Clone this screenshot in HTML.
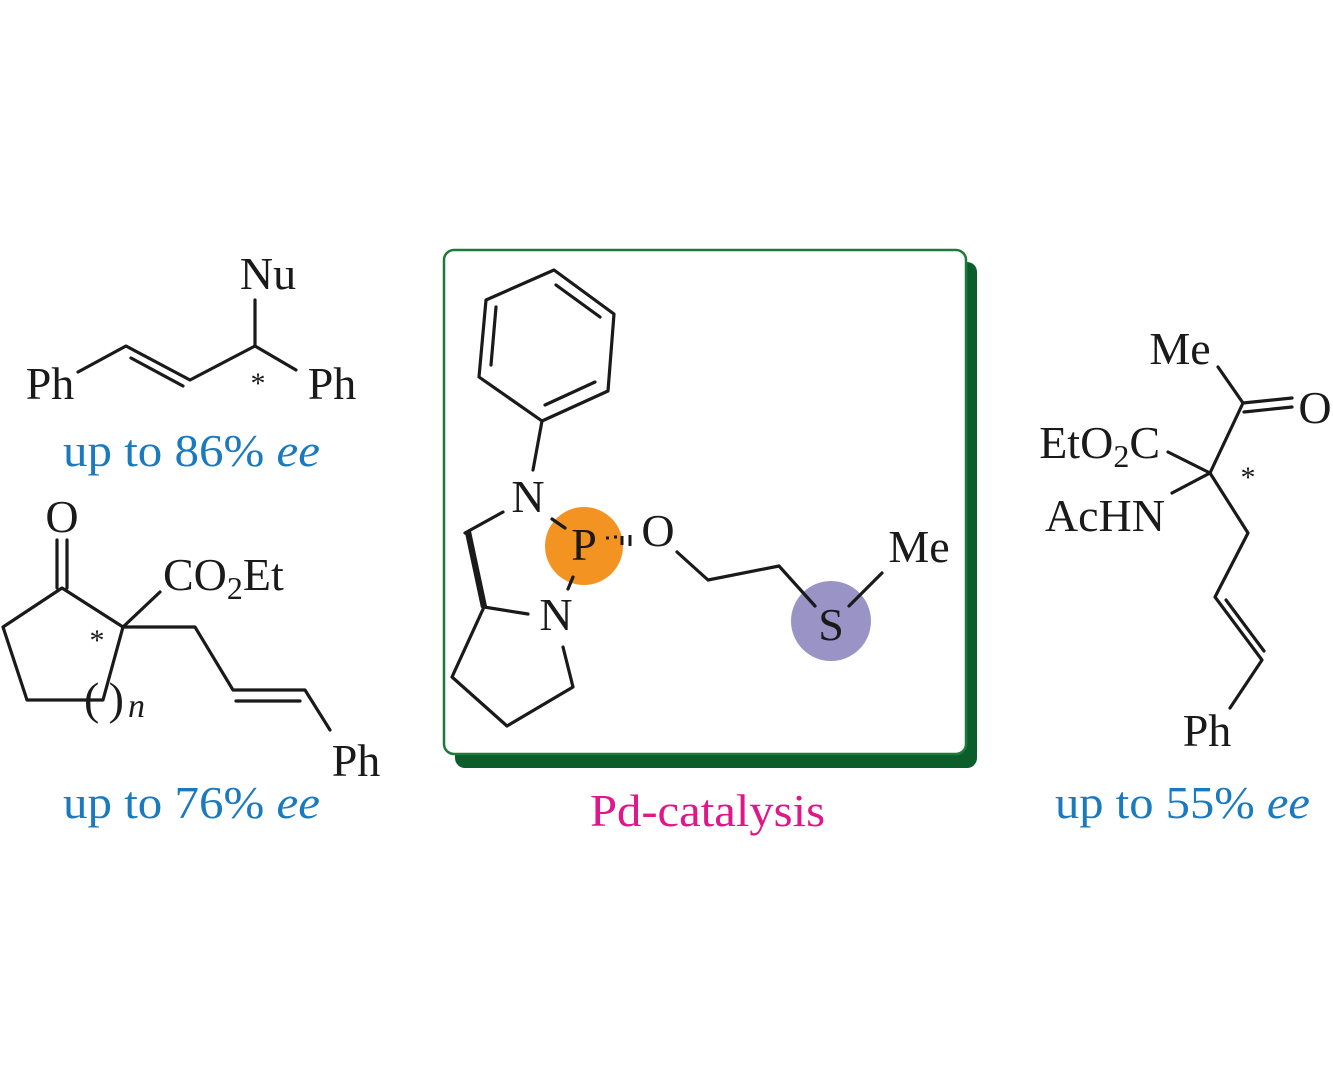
<!DOCTYPE html>
<html><head><meta charset="utf-8"><style>
html,body{margin:0;padding:0;background:#fff;}
svg{display:block;}
text{font-family:"Liberation Serif",serif;}
</style></head><body>
<svg width="1333" height="1085" viewBox="0 0 1333 1085" xmlns="http://www.w3.org/2000/svg">
<g stroke="#1a1a1a" stroke-width="3.2" fill="none" stroke-linecap="round" stroke-linejoin="round">
<polyline points="78,372 126,346 190,380 255,346 296,370"/>
<line x1="131" y1="358" x2="183" y2="386"/>
<line x1="255" y1="346" x2="255" y2="300"/>
<polyline points="62,588 123,627 103,700 27,700 3,627 62,588"/>
<line x1="57" y1="540" x2="57" y2="588"/>
<line x1="67" y1="540" x2="67" y2="588"/>
<line x1="123" y1="627" x2="160" y2="592"/>
<polyline points="123,627 195,627 233,690 305,690 330,730"/>
<line x1="236" y1="701" x2="300" y2="701"/>
</g>
<rect x="455" y="262" width="522" height="506" rx="10" fill="#0b5e2c"/>
<rect x="444" y="250" width="522" height="504" rx="10" fill="#fff" stroke="#1f7a3a" stroke-width="2.5"/>
<circle cx="584" cy="546" r="39" fill="#f39322"/>
<circle cx="831" cy="621" r="40" fill="#9a93c6"/>
<g stroke="#1a1a1a" stroke-width="3.2" fill="none" stroke-linecap="round" stroke-linejoin="round">
<polygon points="554,270 614,314 608,391 542,421 479,377 486,300"/>
<line x1="556" y1="285" x2="600" y2="317"/>
<line x1="595" y1="382" x2="545" y2="405"/>
<line x1="491" y1="365" x2="496" y2="307"/>
<line x1="542" y1="421" x2="533" y2="470"/>
<line x1="503" y1="512" x2="465" y2="533"/>
<polyline points="484,607 452,677 507,726 573,687 563,647"/>
<line x1="484" y1="607" x2="528" y2="614"/>
<line x1="552" y1="519" x2="565" y2="528"/>
<line x1="573" y1="577" x2="568" y2="589"/>
<polyline points="677,552 708,580 779,566 815,606"/>
<line x1="849" y1="606" x2="882" y2="573"/>
<line x1="1218" y1="367" x2="1243" y2="403"/>
<line x1="1243" y1="403" x2="1292" y2="398"/>
<line x1="1244" y1="412" x2="1292" y2="407"/>
<polyline points="1243,403 1210,473 1248,533 1215,597 1262,660 1230,708"/>
<line x1="1226" y1="600" x2="1264" y2="651"/>
<line x1="1168" y1="452" x2="1210" y2="473"/>
<line x1="1172" y1="493" x2="1210" y2="473"/>
</g>
<polygon points="465,533 471,531 487,606 481,608" fill="#1a1a1a"/>
<g stroke="#1a1a1a" stroke-width="3"><line x1="606" y1="538" x2="609" y2="538"/><line x1="614" y1="537" x2="617" y2="537"/><line x1="622" y1="536" x2="622" y2="545"/><line x1="630" y1="535" x2="630" y2="546"/></g>
<g fill="#1a1a1a" font-size="46">
<text x="268" y="289" text-anchor="middle">Nu</text>
<text x="50" y="399" text-anchor="middle">Ph</text>
<text x="332" y="399" text-anchor="middle">Ph</text>
<text x="258" y="393" text-anchor="middle" font-size="30">*</text>
<text x="62" y="532" text-anchor="middle">O</text>
<text x="163" y="590">CO<tspan font-size="32" dy="9">2</tspan><tspan dy="-9">Et</tspan></text>
<text x="97" y="650" text-anchor="middle" font-size="30">*</text>
<text x="84" y="714" textLength="40" lengthAdjust="spacing">( )</text>
<text x="128" y="717" font-style="italic" font-size="34">n</text>
<text x="356" y="776" text-anchor="middle">Ph</text>
<text x="528" y="512" text-anchor="middle">N</text>
<text x="584" y="560" text-anchor="middle">P</text>
<text x="556" y="630" text-anchor="middle">N</text>
<text x="658" y="546" text-anchor="middle">O</text>
<text x="831" y="640" text-anchor="middle">S</text>
<text x="919" y="562" text-anchor="middle">Me</text>
<text x="1180" y="364" text-anchor="middle">Me</text>
<text x="1315" y="423" text-anchor="middle">O</text>
<text x="1160" y="458" text-anchor="end">EtO<tspan font-size="32" dy="9">2</tspan><tspan dy="-9">C</tspan></text>
<text x="1165" y="531" text-anchor="end">AcHN</text>
<text x="1248" y="487" text-anchor="middle" font-size="30">*</text>
<text x="1207" y="746" text-anchor="middle">Ph</text>
</g>
<g fill="#1a7abf" font-size="46">
<text x="63" y="466" textLength="257" lengthAdjust="spacingAndGlyphs">up to 86% <tspan font-style="italic">ee</tspan></text>
<text x="63" y="818" textLength="257" lengthAdjust="spacingAndGlyphs">up to 76% <tspan font-style="italic">ee</tspan></text>
<text x="1055" y="818" textLength="255" lengthAdjust="spacingAndGlyphs">up to 55% <tspan font-style="italic">ee</tspan></text>
</g>
<text x="590" y="826" fill="#e0168a" font-size="46" textLength="235" lengthAdjust="spacingAndGlyphs">Pd-catalysis</text>
</svg>
</body></html>
